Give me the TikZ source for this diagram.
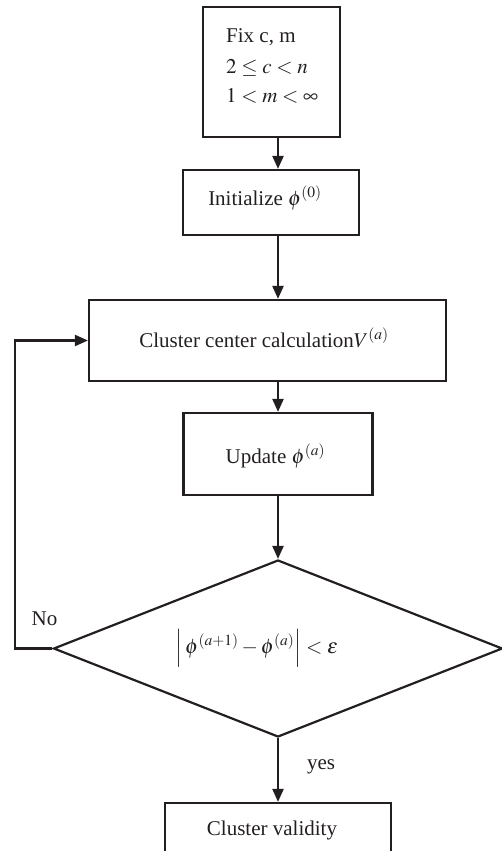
\documentclass[tikz,border=0pt]{standalone}
\usepackage{mathptmx}
\usepackage{fontspec}
\setmainfont{Liberation Serif}
\usetikzlibrary{shapes.geometric,arrows.meta}
\definecolor{ink}{HTML}{231F20}
\begin{document}
\begin{tikzpicture}[x=1pt,y=-1pt,
  font=\fontsize{21}{25}\selectfont,
  box/.style={draw=ink, line width=2.2pt, rectangle, inner sep=0pt},
  txt/.style={inner sep=0pt, text=ink},
  arr/.style={draw=ink, line width=2.2pt, -{Triangle[length=13pt,width=11pt]}}]
\useasboundingbox (0,0) rectangle (502,851);
\coordinate (spine) at (278,0);
\coordinate (loopx) at (15,0);
% boxes
\node[box, minimum width=137pt, minimum height=130pt] (fix) at (271.5,72) {};
\node[box, minimum width=176pt, minimum height=65pt] (ini) at (271,202.5) {};
\node[box, minimum width=357pt, minimum height=81pt] (cc) at (267.5,340.5) {};
\node[box, minimum width=189pt, minimum height=82pt] (up) at (278,454) {};
\node[draw=ink, line width=2.2pt, diamond, inner sep=0pt, minimum width=449pt, minimum height=177pt] (dec) at (278,648.5) {};
\node[box, minimum width=226pt, minimum height=50pt] (cv) at (278,828) {};
% texts
\node[txt, anchor=base west] (fix1) at (226,43) {Fix c, m};
\node[txt, anchor=base west] (fix2) at (226,74) {$2\le c<n$};
\node[txt, anchor=base west] (fix3) at (226,102) {$1<m<\infty$};
\node[txt, anchor=base] (iniT) at (265,205) {Initialize $\phi^{(0)}$};
\node[txt, anchor=base] (ccT) at (264,347) {Cluster center calculation$V^{(a)}$};
\node[txt, anchor=base] (upT) at (275.5,463) {Update $\phi^{(a)}$};
\node[txt] (decT) at (257,648) {$\left|\,\phi^{(a+1)}-\phi^{(a)}\right|<\epsilon$};
\node[txt, anchor=base] (cvT) at (272,835) {Cluster validity};
\node[txt, anchor=base] (no) at (44.5,625) {No};
\node[txt, anchor=base] (yes) at (321,769) {yes};
% connectors
\draw[arr] (fix.south -| spine) -- (ini.north -| spine);
\draw[arr] (ini.south -| spine) -- (cc.north -| spine);
\draw[arr] (cc.south -| spine) -- (up.north -| spine);
\draw[arr] (up.south) -- (dec.north);
\draw[arr] (dec.south) -- (cv.north);
\draw[arr] (dec.west) -- (dec.west -| loopx) |- (cc.west);
\end{tikzpicture}
\end{document}
